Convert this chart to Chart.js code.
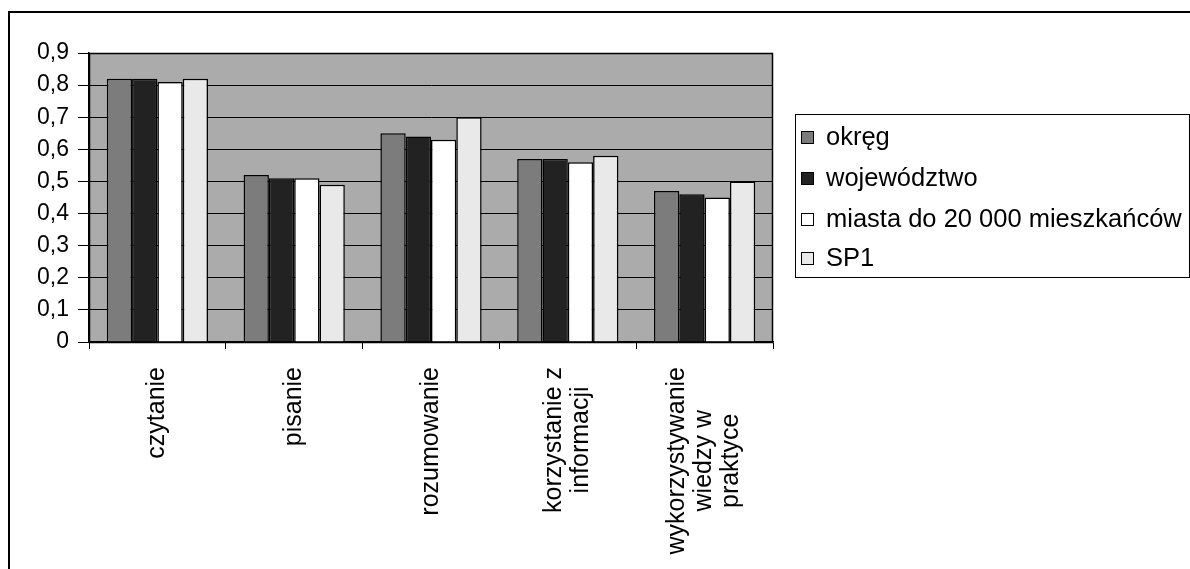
<!DOCTYPE html>
<html><head><meta charset="utf-8">
<script src="https://cdn.jsdelivr.net/npm/chart.js@4/dist/chart.umd.min.js"></script>
<style>
html,body{margin:0;padding:0;background:#fff;}
#wrap{position:relative;width:1190px;height:569px;overflow:hidden;}
#frame{position:absolute;left:8px;top:11px;right:-10px;bottom:-10px;border-top:2px solid #000;border-left:2px solid #000;}
canvas{position:absolute;left:0;top:0;}
</style></head><body>
<div id="wrap"><div id="frame"></div><canvas id="c" width="1190" height="569"></canvas></div>
<script>
const categories = ['czytanie', 'pisanie', 'rozumowanie', ['korzystanie z', 'informacji'], ['wykorzystywanie', 'wiedzy w', 'praktyce']];
const seriesNames = ['okręg', 'województwo', 'miasta do 20 000 mieszkańców', 'SP1'];
const okreg = [0.82, 0.52, 0.65, 0.57, 0.47];
const wojewodztwo = [0.82, 0.51, 0.64, 0.57, 0.46];
const miasta = [0.81, 0.51, 0.63, 0.56, 0.45];
const sp1 = [0.82, 0.49, 0.70, 0.58, 0.50];
const yTickLabels = ['0', '0,1', '0,2', '0,3', '0,4', '0,5', '0,6', '0,7', '0,8', '0,9'];

const FONT = "'Liberation Sans', Arial, sans-serif";
const colors = ['#7c7c7c', '#222222', '#ffffff', '#e9e9e9'];
const seriesValues = [okreg, wojewodztwo, miasta, sp1];

const decor = {
  id: 'decor',
  beforeDraw(chart) {
    const {ctx, chartArea: a} = chart;
    ctx.save();
    ctx.fillStyle = '#ababab';
    ctx.fillRect(a.left, a.top, a.right - a.left, a.bottom - a.top);
    ctx.restore();
  },
  afterDraw(chart) {
    const {ctx, chartArea: a} = chart;
    ctx.save();
    ctx.strokeStyle = '#000';
    ctx.lineWidth = 1.5;
    ctx.strokeRect(a.left + 0.5, a.top + 0.5, a.right - a.left - 1, a.bottom - a.top);
    ctx.lineWidth = 1;
    // category labels (rotated, centred multi-line)
    const xs = chart.scales.x;
    ctx.fillStyle = '#000';
    ctx.font = '25px ' + FONT;
    ctx.textBaseline = 'middle';
    ctx.textAlign = 'center';
    const lh = 27;
    const y0 = a.bottom + 25;
    chart.data.labels.forEach((lab, i) => {
      const lines = Array.isArray(lab) ? lab : [lab];
      const maxW = Math.max(...lines.map(l => ctx.measureText(l).width));
      const cx = xs.getPixelForValue(i);
      lines.forEach((l, j) => {
        ctx.save();
        ctx.translate(cx + (j - (lines.length - 1) / 2) * lh, y0 + maxW / 2);
        ctx.rotate(-Math.PI / 2);
        ctx.fillText(l, 0, 0);
        ctx.restore();
      });
    });
    // legend
    const lx = 795, ly = 114, lw = 394, lhh = 163;
    ctx.fillStyle = '#fff';
    ctx.fillRect(lx, ly, lw, lhh);
    ctx.strokeStyle = '#000';
    ctx.strokeRect(lx + 0.5, ly + 0.5, lw, lhh);
    const rows = [137, 178, 219, 258];
    ctx.font = '25.5px ' + FONT;
    ctx.textAlign = 'left';
    chart.data.datasets.forEach((ds, i) => {
      const y = rows[i];
      ctx.fillStyle = ds.backgroundColor;
      ctx.fillRect(801, y - 6, 12, 12);
      ctx.strokeStyle = '#000';
      ctx.strokeRect(801.5, y - 5.5, 12, 12);
      ctx.fillStyle = '#000';
      ctx.fillText(ds.label, 826, y + 1);
    });
    ctx.restore();
  }
};

new Chart(document.getElementById('c'), {
  type: 'bar',
  data: {
    labels: categories,
    datasets: seriesNames.map((name, i) => ({
      label: name,
      data: seriesValues[i],
      backgroundColor: colors[i],
      borderColor: '#000',
      borderWidth: 1.5,
      categoryPercentage: 0.74,
      barPercentage: 1.0
    }))
  },
  options: {
    responsive: false,
    devicePixelRatio: 1,
    animation: false,
    layout: {padding: {top: 53, right: 417, left: 0, bottom: 0}},
    plugins: {legend: {display: false}, tooltip: {enabled: false}},
    scales: {
      x: {
        afterFit(s) { s.height = 227; },
        grid: {drawOnChartArea: false, drawTicks: true, tickLength: 7, color: '#000', offset: true},
        border: {display: true, color: '#000', width: 1.5},
        ticks: {display: false}
      },
      y: {
        min: 0, max: 0.9,
        afterFit(s) { s.width = 89; },
        grid: {color: '#000', lineWidth: 1, tickLength: 11, drawTicks: true},
        border: {display: true, color: '#000', width: 1.5},
        ticks: {
          stepSize: 0.1,
          padding: 9,
          color: '#000',
          font: {family: FONT, size: 23},
          callback: (v) => yTickLabels[Math.round(v * 10)]
        }
      }
    }
  },
  plugins: [decor]
});
</script>
</body></html>
